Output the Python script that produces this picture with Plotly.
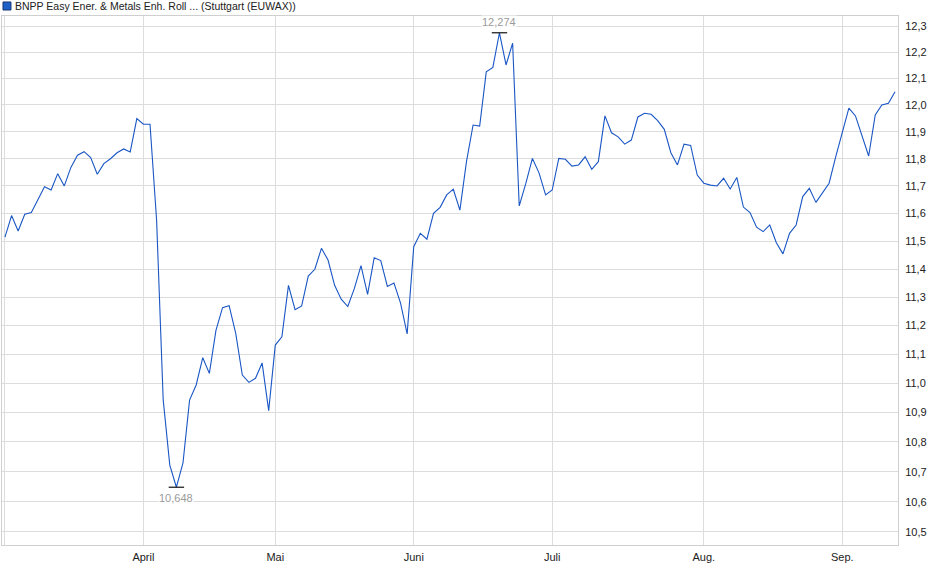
import numpy as np
import pandas as pd
import plotly.graph_objects as go

# ---- data ----
title_text = "BNPP Easy Ener. & Metals Enh. Roll ... (Stuttgart (EUWAX))"
holidays = ["2025-04-18", "2025-04-21", "2025-05-01"]
dates = pd.bdate_range("2025-03-03", "2025-09-11", freq="C", holidays=holidays)
date_labels = [d.strftime("%Y-%m-%d") for d in dates]

prices = [
    11.514, 11.592, 11.536, 11.597, 11.603, 11.648, 11.697, 11.685, 11.745, 11.700,
    11.768, 11.813, 11.826, 11.804, 11.743, 11.782, 11.800, 11.822, 11.836, 11.825,
    11.949, 11.928, 11.928, 11.575, 10.943, 10.722, 10.648, 10.729, 10.942, 10.994,
    11.088, 11.034, 11.183, 11.263, 11.270, 11.173, 11.028, 11.003, 11.017, 11.070,
    10.906, 11.132, 11.161, 11.342, 11.256, 11.269, 11.375, 11.399, 11.474, 11.432,
    11.342, 11.293, 11.267, 11.331, 11.412, 11.310, 11.440, 11.430, 11.338, 11.350,
    11.279, 11.171, 11.480, 11.528, 11.507, 11.600, 11.622, 11.667, 11.688, 11.612,
    11.789, 11.925, 11.921, 12.125, 12.142, 12.274, 12.151, 12.234, 11.627, 11.709,
    11.801, 11.748, 11.667, 11.685, 11.801, 11.798, 11.773, 11.777, 11.807, 11.761,
    11.789, 11.959, 11.896, 11.881, 11.854, 11.869, 11.955, 11.969, 11.965, 11.941,
    11.909, 11.822, 11.777, 11.854, 11.849, 11.740, 11.710, 11.703, 11.700, 11.728,
    11.689, 11.731, 11.623, 11.603, 11.550, 11.534, 11.558, 11.494, 11.454, 11.528,
    11.558, 11.661, 11.691, 11.640, 11.673, 11.710, 11.807, 11.900, 11.988, 11.959,
    11.881, 11.810, 11.963, 12.000, 12.006, 12.050,
]

month_names = ["", "April", "Mai", "Juni", "Juli", "Aug.", "Sep."]
y_ticks = [10.5, 10.6, 10.7, 10.8, 10.9, 11.0, 11.1, 11.2, 11.3, 11.4,
           11.5, 11.6, 11.7, 11.8, 11.9, 12.0, 12.1, 12.2, 12.3]
y_ticktext = [f"{v:.1f}".replace(".", ",") for v in y_ticks]

# first trading day of each month
month_first = pd.Series(date_labels, index=dates).groupby(dates.to_period("M")).first().tolist()

line_color = "#1a56c4"
grid_color = "#dcdcdc"
font_family = "Liberation Sans, Arial, sans-serif"

i_max = int(np.argmax(prices))
i_min = int(np.argmin(prices))

fig = go.Figure()
fig.add_trace(go.Scatter(
    x=date_labels, y=prices, mode="lines",
    line=dict(color=line_color, width=1.1),
    hoverinfo="x+y", showlegend=False,
))
fig.add_trace(go.Scatter(
    x=[date_labels[i_max], date_labels[i_min]],
    y=[prices[i_max], prices[i_min]],
    mode="markers",
    marker=dict(symbol="line-ew-open", size=11, color="#111111",
                line=dict(color="#111111", width=1.2)),
    hoverinfo="skip", showlegend=False,
))

for i, shift in ((i_max, 11), (i_min, -11)):
    fig.add_annotation(
        x=date_labels[i], y=np.log10(prices[i]), xref="x", yref="y",
        text=f"{prices[i]:.3f}".replace(".", ","), showarrow=False,
        yshift=shift, font=dict(size=11, color="#9a9a9a", family=font_family),
        bgcolor="rgba(255,255,255,0.9)", borderpad=0,
    )

# header (legend-like)
fig.add_shape(type="rect", xref="paper", yref="paper",
              x0=0.0011, x1=0.0100, y0=1.0113, y1=1.0265,
              fillcolor="#1f5fc8", line=dict(color="#1a3570", width=1))
fig.add_annotation(
    x=0.0125, y=1.0195, xref="paper", yref="paper", xanchor="left", yanchor="middle",
    text=title_text, showarrow=False,
    font=dict(size=10.5, color="#222222", family=font_family),
)

n = len(prices)
fig.update_layout(
    width=940, height=579,
    margin=dict(l=2, r=42, t=16, b=34),
    paper_bgcolor="white", plot_bgcolor="white",
    font=dict(family=font_family, size=11, color="#222222"),
    showlegend=False,
    xaxis=dict(
        type="category",
        range=[-0.45, n - 1 + 0.45],
        tickvals=month_first, ticktext=month_names,
        showgrid=True, gridcolor=grid_color, gridwidth=1,
        showline=True, linecolor="#cfcfcf", linewidth=1, mirror=True,
        ticks="", ticklabelstandoff=2,
        tickfont=dict(size=11, color="#222222", family=font_family),
        zeroline=False, fixedrange=True,
    ),
    yaxis=dict(
        type="log", side="right",
        range=[1.019423, 1.091263],
        tickvals=y_ticks, ticktext=y_ticktext,
        showgrid=True, gridcolor=grid_color, gridwidth=1,
        showline=True, linecolor="#cfcfcf", linewidth=1, mirror=True,
        ticks="", ticklabelstandoff=4,
        tickfont=dict(size=11, color="#222222", family=font_family),
        zeroline=False, fixedrange=True,
    ),
)

fig.write_html(
    "out.html",
    config={"displayModeBar": False},
    post_script="document.body.style.margin='0';document.body.style.overflow='hidden';",
)
